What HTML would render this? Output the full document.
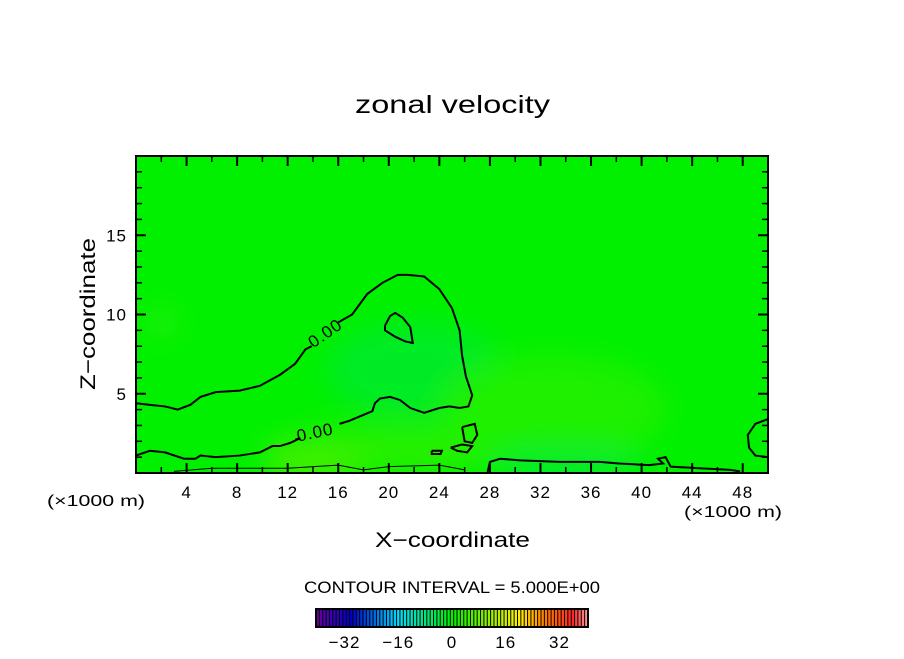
<!DOCTYPE html>
<html><head><meta charset="utf-8"><style>
body{margin:0;background:#fff;}
svg text{font-family:"Liberation Sans",sans-serif;fill:#000;}
</style></head><body>
<svg id="chart" width="904" height="654" viewBox="0 0 904 654" xmlns="http://www.w3.org/2000/svg">
<defs>
<filter id="blur" x="-50%" y="-50%" width="200%" height="200%"><feGaussianBlur stdDeviation="14"/></filter>
<clipPath id="plotclip"><rect x="136" y="156" width="632" height="317"/></clipPath>
</defs>
<text x="355" y="113" font-size="25" textLength="195" lengthAdjust="spacingAndGlyphs">zonal velocity</text>
<g id="plot" clip-path="url(#plotclip)">
<rect x="136" y="156" width="632" height="317" fill="#00f000"/>
<g id="shades" filter="url(#blur)" opacity="0.6"></g>
<g id="contours"></g>
</g>
<rect x="136" y="156" width="632" height="317" fill="none" stroke="#000" stroke-width="2"/>
<g id="axes"></g>
<text x="375" y="547" font-size="21" textLength="155" lengthAdjust="spacingAndGlyphs">X−coordinate</text>
<text transform="translate(95,390) rotate(-90)" font-size="21" textLength="152" lengthAdjust="spacingAndGlyphs">Z−coordinate</text>
<text x="47" y="506" font-size="16" textLength="98" lengthAdjust="spacingAndGlyphs">(×1000 m)</text>
<text x="684" y="517" font-size="16" textLength="98" lengthAdjust="spacingAndGlyphs">(×1000 m)</text>
<text x="304" y="593" font-size="17" textLength="296" lengthAdjust="spacingAndGlyphs">CONTOUR INTERVAL = 5.000E+00</text>
<g id="colorbar"></g>
</svg>
<script>
// ---- data ----
const xTicks = [4, 8, 12, 16, 20, 24, 28, 32, 36, 40, 44, 48];
const zTicks = [5, 10, 15];
const cbTicks = [-32, -16, 0, 16, 32];
const cbLevels = [];
for (let v = -40; v <= 40; v++) cbLevels.push(v);
// contour lines (x in km, z in km)
const contourUpper = [[0,4.4],[1.1,4.3],[2.3,4.2],[3.3,4.0],[4.3,4.3],[5.1,4.8],[6.3,5.1],[8.2,5.2],[9.8,5.5],[11.4,6.2],[12.6,6.9],[13.4,7.8],[13.9,8.0]];
const contourUpper2 = [[16.0,9.5],[17.1,10.0],[18.3,11.3],[19.5,12.0],[20.7,12.5],[21.5,12.5],[22.8,12.4],[24.0,11.6],[25.0,10.4],[25.6,9.0],[25.8,7.4],[26.1,6.1],[26.6,4.9],[26.3,4.2],[25.6,4.1],[24.8,4.2],[24.0,4.1],[22.8,3.8],[21.7,4.1],[20.9,4.6],[20.1,4.8],[19.3,4.7],[18.9,4.4],[18.7,3.9],[18.1,3.7],[16.9,3.3],[16.1,3.1]];
const contourLower = [[0,1.1],[1.1,1.4],[2.3,1.3],[3.8,0.9],[4.7,0.9],[5.1,1.1],[6.3,1.0],[8.2,1.1],[9.8,1.3],[10.8,1.7],[11.4,1.7],[12.2,1.9],[13.0,2.2],[12.6,2.1]];
const contourInner = [[19.7,9.3],[20.1,9.9],[20.5,10.1],[21.1,9.8],[21.7,9.2],[21.9,8.2],[21.3,8.3],[20.5,8.6],[19.7,9.0],[19.7,9.3]];
const contourRight = [[27.8,0],[28.0,0.7],[28.8,0.9],[30.4,0.8],[33.5,0.7],[36.7,0.7],[38.2,0.6],[40.6,0.5],[41.7,0.6],[41.3,0.9],[41.9,1.0],[42.3,0.4],[44.6,0.3],[47.0,0.2],[47.8,0.1]];
const contourEdge = [[50,3.4],[49.0,3.1],[48.4,2.4],[48.5,1.6],[49.0,1.1],[50,1.0]];
const contourBlob1 = [[25.8,2.9],[26.8,3.1],[27.0,2.4],[26.6,1.9],[26.0,2.0],[25.8,2.9]];
const contourBlob2 = [[24.9,1.6],[25.8,1.8],[26.6,1.7],[26.2,1.3],[25.4,1.4],[24.9,1.6]];
const contourBlob3 = [[23.4,1.4],[24.2,1.4],[24.1,1.2],[23.4,1.2],[23.4,1.4]];
const contourThin = [[3,0.1],[6,0.3],[12,0.3],[16,0.5],[18,0.2],[20,0.4],[24,0.5],[26,0.2]];
// ---- axes ----
const X0=136, X1=768, Y0=473, Y1=156, XMAX=50, ZMAX=20;
const sx = v => X0 + v*(X1-X0)/XMAX;
const sz = v => Y0 - v*(Y0-Y1)/ZMAX;
const NS="http://www.w3.org/2000/svg";
function mk(tag, parent){const e=document.createElementNS(NS,tag);parent.appendChild(e);return e;}
const axes=document.getElementById('axes');
for (let v=2; v<XMAX; v+=2){
  const major = xTicks.includes(v);
  const len = major?10:6;
  [[Y0,-1],[Y1,1]].forEach(([y,d])=>{
    const l=mk('line',axes);
    
    
    l.setAttribute('x1',sx(v));l.setAttribute('x2',sx(v));l.setAttribute('y1',y);l.setAttribute('y2',y+d*len);
    l.setAttribute('stroke','#000');l.setAttribute('stroke-width',major?2:1.5);
  });
}
xTicks.forEach(v=>{
  const t=mk('text',axes);
  
  
  t.setAttribute('x',sx(v));t.setAttribute('y',498);t.setAttribute('font-size','17');t.setAttribute('text-anchor','middle');
  t.setAttribute('letter-spacing','1');
  t.textContent=v;
});
for (let v=1; v<ZMAX; v++){
  const major = zTicks.includes(v);
  const len = major?10:6;
  [[X0,1],[X1,-1]].forEach(([x,d])=>{
    const l=mk('line',axes);
    
    
    l.setAttribute('x1',x);l.setAttribute('x2',x+d*len);l.setAttribute('y1',sz(v));l.setAttribute('y2',sz(v));
    l.setAttribute('stroke','#000');l.setAttribute('stroke-width',major?2:1.5);
  });
}
zTicks.forEach(v=>{
  const t=mk('text',axes);
  
  
  t.setAttribute('x',127);t.setAttribute('y',sz(v)+6);t.setAttribute('font-size','17');t.setAttribute('text-anchor','end');
  t.setAttribute('letter-spacing','1');
  t.textContent=v;
});
// ---- shading ----
const shades=document.getElementById('shades');
const shadeBlobs=[[22,6.5,7,3,'#00e840'],[20,1.5,10,1.5,'#40f000'],[33,4,9,3.5,'#30f000'],[34,0.5,6,1,'#00e850'],[14,0.5,4,1,'#70f000'],[2,9.5,1.5,1,'#30f010']];
shadeBlobs.forEach(b=>{
  const e=mk('ellipse',shades);
  
  
  e.setAttribute('cx',sx(b[0]));e.setAttribute('cy',sz(b[1]));
  e.setAttribute('rx',b[2]*(X1-X0)/XMAX);e.setAttribute('ry',b[3]*(Y0-Y1)/ZMAX);
  e.setAttribute('fill',b[4]);
});
// ---- contours ----
const cg=document.getElementById('contours');
function line(pts,name,w){
  const p=mk('polyline',cg);
  
  
  p.setAttribute('points',pts.map(q=>sx(q[0])+','+sz(q[1])).join(' '));
  p.setAttribute('fill','none');p.setAttribute('stroke','#000');p.setAttribute('stroke-width',w);
}
line(contourUpper,'contour-zero-upper',2);
line(contourUpper2,'contour-zero-upper',2);
line(contourLower,'contour-zero-lower',2);
line(contourInner,'contour-zero-inner',2);
line(contourRight,'contour-zero-right',2);
line(contourEdge,'contour-zero-edge',2);
line(contourBlob1,'contour-zero-blob',2);
line(contourBlob2,'contour-zero-blob',2);
line(contourBlob3,'contour-zero-blob',2);
line(contourThin,'contour-thin',1);
[[325,333,-35],[315,432,-12]].forEach(a=>{
  const t=mk('text',cg);
  
  
  t.setAttribute('transform',`translate(${a[0]},${a[1]}) rotate(${a[2]})`);
  t.setAttribute('font-size','17');t.setAttribute('text-anchor','middle');t.setAttribute('dy','6');
  t.setAttribute('letter-spacing','1');
  t.textContent='0.00';
});
// ---- colorbar ----
const cb=document.getElementById('colorbar');
const CB0=316, CB1=588, CY=609, CH=18;
const cw=(CB1-CB0)/cbLevels.length;
const cbx = v => CB0 + (v+40.5)*cw;
function colorFor(v){
  const stops=[[-41,[110,0,160]],[-30,[0,0,200]],[-16,[0,220,255]],[0,[0,240,0]],[12,[160,240,0]],[20,[255,240,0]],[28,[255,120,0]],[36,[255,40,40]],[41,[255,170,170]]];
  for(let i=0;i<stops.length-1;i++){
    const a=stops[i],b=stops[i+1];
    if(v>=a[0]&&v<=b[0]){const f=(v-a[0])/(b[0]-a[0]);
      return 'rgb('+a[1].map((c,k)=>Math.round(c+f*(b[1][k]-c))).join(',')+')';}
  }
  return '#000';
}
cbLevels.forEach(v=>{
  const r=mk('rect',cb);
  
  
  r.setAttribute('x',cbx(v)-cw/2);r.setAttribute('y',CY);r.setAttribute('width',cw);r.setAttribute('height',CH);
  r.setAttribute('fill',colorFor(v));
  const l=mk('line',cb);
  
  
  l.setAttribute('x1',cbx(v)-cw/2);l.setAttribute('x2',cbx(v)-cw/2);l.setAttribute('y1',CY);l.setAttribute('y2',CY+CH);
  l.setAttribute('stroke','#000');l.setAttribute('stroke-width','1');
});
const fr=mk('rect',cb);


fr.setAttribute('x',CB0);fr.setAttribute('y',CY);fr.setAttribute('width',CB1-CB0);fr.setAttribute('height',CH);
fr.setAttribute('fill','none');fr.setAttribute('stroke','#000');fr.setAttribute('stroke-width','2');
cbTicks.forEach(v=>{
  const t=mk('text',cb);
  
  
  t.setAttribute('x',cbx(v));t.setAttribute('y',648);t.setAttribute('font-size','17');t.setAttribute('text-anchor','middle');
  t.setAttribute('letter-spacing','1');
  t.textContent=v<0?'−'+Math.abs(v):v;
});
</script>
</body></html>
